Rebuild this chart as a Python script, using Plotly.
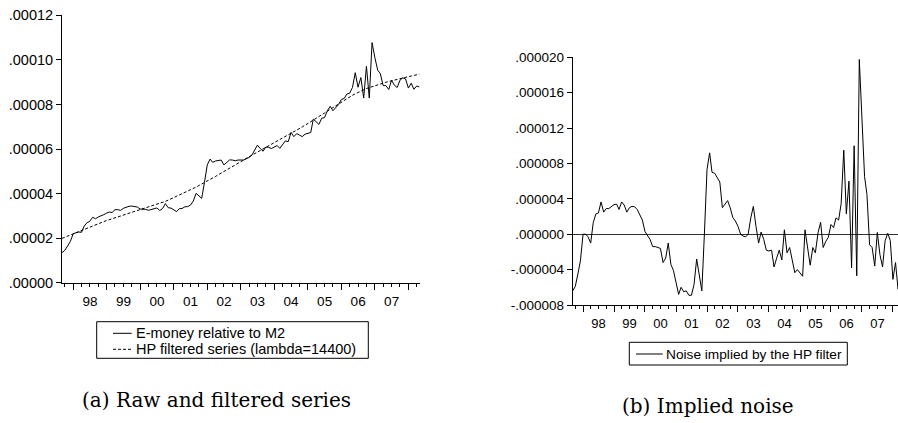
import pandas as pd
import plotly.graph_objects as go

# ---------------- data (values in units of 1e-6) ----------------
UNIT = 1e-6
START = "1997-09-01"

hp_trend = [
    19.9, 20.4, 20.95, 21.5, 22.0, 22.55, 23.05, 23.6, 24.1, 24.65, 25.15, 25.7, 26.2,
    26.6, 27.05, 27.45, 27.9, 28.3, 28.7, 29.1, 29.5, 29.95, 30.35, 30.8, 31.2,
    31.6, 32.0, 32.35, 32.75, 33.1, 33.5,
    33.9, 34.3, 34.75, 35.15, 35.6, 36.0,
    36.5, 37.05, 37.6, 38.15, 38.7, 39.2,
    39.8, 40.45, 41.05, 41.7, 42.3, 42.9,
    43.6, 44.25, 44.95, 45.6, 46.3, 47.0,
    47.7, 48.45, 49.15, 49.85, 50.6, 51.3,
    52.05, 52.8, 53.55, 54.3, 55.05, 55.8,
    56.5, 57.2, 57.9, 58.6, 59.3, 60.0,
    60.65, 61.35, 62.0, 62.65, 63.35, 64.0,
    64.75, 65.45, 66.2, 66.95, 67.65, 68.4,
    69.15, 69.9, 70.65, 71.4, 72.15, 72.9,
    73.7, 74.55, 75.35, 76.15, 77.0, 77.8,
    78.65, 79.5, 80.3, 81.15, 81.95, 82.8,
    83.45, 84.1, 84.75, 85.4, 86.05, 86.7,
    87.15, 87.55, 88.0, 88.45, 88.85, 89.3,
    89.65, 89.95, 90.3, 90.65, 90.95, 91.3,
    91.6, 91.85, 92.15, 92.45, 92.75, 93.0, 93.3, 93.6,
]

emoney_m2 = [
    13.5, 14.5, 16.45, 18.5, 22.0, 22.55, 22.75, 22.6, 25.4, 26.95, 27.55, 29.35, 28.7,
    29.5, 29.95, 30.55, 31.25, 31.7, 31.5, 32.75, 32.8, 32.45, 33.35, 33.95, 34.3,
    34.4, 34.1, 33.95, 33.05, 33.0, 32.9,
    32.5, 32.9, 33.25, 33.55, 32.4, 33.3,
    35.5, 33.65, 33.5, 32.65, 31.9, 33.2,
    33.3, 34.05, 34.15, 34.8, 36.6, 40.1,
    38.9, 37.85, 44.95, 52.9, 55.5, 54.0,
    54.6, 54.85, 55.05, 52.85, 54.05, 55.1,
    55.05, 54.7, 55.05, 55.2, 55.05, 55.6,
    56.2, 57.2, 59.75, 61.75, 60.2, 59.0,
    60.9, 60.75, 60.2, 60.75, 61.55, 60.3,
    62.05, 63.65, 63.3, 67.45, 65.55, 66.9,
    66.25, 65.55, 66.65, 67.05, 67.4, 73.4,
    72.2, 71.05, 73.85, 74.05, 77.15, 79.15,
    77.15, 78.7, 79.95, 82.25, 82.7, 84.65,
    85.05, 87.55, 94.25, 87.7, 92.05, 82.9,
    97.15, 82.85, 107.75, 100.95, 95.35, 93.8,
    88.45, 88.45, 86.7, 90.85, 88.65, 87.6,
    90.85, 91.95, 91.45, 87.35, 89.55, 86.8, 88.3, 87.8,
]

hp_noise = [
    -6.4, -5.9, -4.5, -3.0, 0.0, 0.0, -0.3, -1.0, 1.3, 2.3, 2.4, 3.65, 2.5,
    2.9, 2.9, 3.1, 3.35, 3.4, 2.8, 3.65, 3.3, 2.5, 3.0, 3.15, 3.1,
    2.8, 2.1, 1.6, 0.3, -0.1, -0.6,
    -1.4, -1.4, -1.5, -1.6, -3.2, -2.7,
    -1.0, -3.4, -4.1, -5.5, -6.8, -6.0,
    -6.5, -6.4, -6.9, -6.9, -5.7, -2.8,
    -4.7, -6.4, 0.0, 7.3, 9.2, 7.0,
    6.9, 6.4, 5.9, 3.0, 3.45, 3.8,
    3.0, 1.9, 1.5, 0.9, 0.0, -0.2,
    -0.3, 0.0, 1.85, 3.15, 0.9, -1.0,
    0.25, -0.6, -1.8, -1.9, -1.8, -3.7,
    -2.7, -1.8, -2.9, 0.5, -2.1, -1.5,
    -2.9, -4.35, -4.0, -4.35, -4.75, 0.5,
    -1.5, -3.5, -1.5, -2.1, 0.15, 1.35,
    -1.5, -0.8, -0.35, 1.1, 0.75, 1.85,
    1.6, 3.45, 9.5, 2.3, 6.0, -3.8,
    10.0, -4.7, 19.75, 12.5, 6.5, 4.5,
    -1.2, -1.5, -3.6, 0.2, -2.3, -3.7,
    -0.75, 0.1, -0.7, -5.1, -3.2, -6.2, -5.0, -5.8,
]

left_yticks = [0, 20, 40, 60, 80, 100, 120]
left_yticktext = [".00000", ".00002", ".00004", ".00006", ".00008", ".00010", ".00012"]
right_yticks = [-8, -4, 0, 4, 8, 12, 16, 20]
right_yticktext = ["-.000008", "-.000004", ".000000", ".000004", ".000008",
                   ".000012", ".000016", ".000020"]

series_names = ["E-money relative to M2", "HP filtered series (lambda=14400)",
                "Noise implied by the HP filter"]
captions = ["(a) Raw and filtered series", "(b) Implied noise"]

# ---------------- figure ----------------
W, H = 898, 423
months = pd.date_range(START, periods=len(emoney_m2), freq="MS")

def sc(vals):
    return [v * UNIT for v in vals]

fig = go.Figure()
fig.add_trace(go.Scatter(x=months, y=sc(emoney_m2), mode="lines", name=series_names[0],
                         line=dict(color="black", width=1), xaxis="x", yaxis="y"))
fig.add_trace(go.Scatter(x=months, y=sc(hp_trend), mode="lines", name=series_names[1],
                         line=dict(color="black", width=1, dash="3px,2px"),
                         xaxis="x", yaxis="y"))
fig.add_trace(go.Scatter(x=months, y=sc(hp_noise), mode="lines", name=series_names[2],
                         line=dict(color="black", width=1), xaxis="x2", yaxis="y2"))

def px_x(p):
    return p / W

def px_y(p):
    return (H - p) / H

sans = "Liberation Sans, Arial, sans-serif"

xcommon = dict(
    type="date", showline=True, linecolor="black", linewidth=1, automargin=False,
    ticks="outside", ticklen=6, tickcolor="black", tickwidth=1,
    dtick="M12", tick0="1998-01-01", tickformat="%y", ticklabelmode="period",
    showgrid=False, zeroline=False,
    minor=dict(ticks="outside", ticklen=3, tickcolor="black", dtick="M3",
               tick0="1998-01-01", showgrid=False),
)

fig.update_layout(
    width=W, height=H,
    margin=dict(l=0, r=0, t=0, b=0, autoexpand=False),
    paper_bgcolor="white", plot_bgcolor="white",
    font=dict(family=sans, color="black"),
    showlegend=False,
    xaxis=dict(domain=[px_x(62), px_x(419.5)], anchor="y",
               range=[months[0], months[-1]],
               tickfont=dict(size=13.5, family=sans), **xcommon),
    yaxis=dict(domain=[px_y(282.7), px_y(15.3)], anchor="x", automargin=False,
               range=[0, 120 * UNIT], tickvals=sc(left_yticks), ticktext=left_yticktext,
               showline=True, linecolor="black", linewidth=1, ticks="outside",
               ticklen=5, tickcolor="black", showgrid=False, zeroline=False,
               tickfont=dict(size=14.5, family=sans)),
    xaxis2=dict(domain=[px_x(572.7), 1.0], anchor="y2",
                range=["1997-09-01", "2008-03-01"],
                tickfont=dict(size=13, family=sans), **xcommon),
    yaxis2=dict(domain=[px_y(305), px_y(57.3)], anchor="x2", automargin=False,
                range=[-8 * UNIT, 20 * UNIT], tickvals=sc(right_yticks),
                ticktext=right_yticktext,
                showline=True, linecolor="black", linewidth=1, ticks="outside",
                ticklen=5, tickcolor="black", showgrid=False,
                zeroline=True, zerolinecolor="#333333", zerolinewidth=1,
                tickfont=dict(size=13.5, family=sans)),
)

# ---- legend boxes (drawn to match the compact EViews legend) ----
def legend_box(x0, y0, x1, y1, items, size):
    fig.add_shape(type="rect", xref="paper", yref="paper",
                  x0=px_x(x0), x1=px_x(x1), y0=px_y(y1), y1=px_y(y0),
                  line=dict(color="black", width=1), fillcolor="white")
    for (label, dash, ly, lx0, lx1, tx) in items:
        fig.add_shape(type="line", xref="paper", yref="paper",
                      x0=px_x(lx0), x1=px_x(lx1), y0=px_y(ly), y1=px_y(ly),
                      line=dict(color="black", width=1, dash=dash))
        fig.add_annotation(text=label, x=px_x(tx), y=px_y(ly), xref="paper", yref="paper",
                           xanchor="left", yanchor="middle", showarrow=False,
                           font=dict(size=size, family=sans, color="black"))

legend_box(96.7, 321.7, 368.3, 358.3,
           [(series_names[0], "solid", 333.3, 113, 131.7, 134),
            (series_names[1], "3px,2px", 349.3, 113, 131.7, 134)], 14.5)
legend_box(629.3, 342.3, 847.3, 365,
           [(series_names[2], "solid", 354, 636, 662.7, 663.5)], 13.7)

cap_font = dict(family="DejaVu Serif, serif", size=20, color="black")
fig.add_annotation(text=captions[0], x=px_x(216.7), y=px_y(400), xref="paper", yref="paper",
                   xanchor="center", yanchor="middle", showarrow=False, font=cap_font)
fig.add_annotation(text=captions[1], x=px_x(707.5), y=px_y(406), xref="paper", yref="paper",
                   xanchor="center", yanchor="middle", showarrow=False, font=cap_font)

fig.write_html("out.html", config={"displayModeBar": False},
               post_script="document.body.style.margin='0';")
